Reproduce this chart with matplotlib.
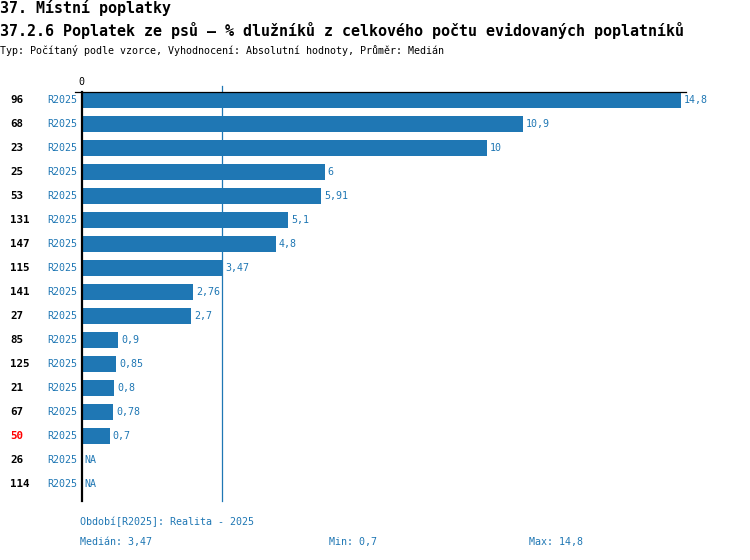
import matplotlib
matplotlib.use("Agg")
import matplotlib.pyplot as plt
from matplotlib.lines import Line2D

# ===============================
# Data
# ===============================
codes = ["96", "68", "23", "25", "53", "131", "147", "115", "141", "27",
         "85", "125", "21", "67", "50", "26", "114"]
values = [14.8, 10.9, 10, 6, 5.91, 5.1, 4.8, 3.47, 2.76, 2.7,
          0.9, 0.85, 0.8, 0.78, 0.7, None, None]
value_labels = ["14,8", "10,9", "10", "6", "5,91", "5,1", "4,8", "3,47", "2,76", "2,7",
                "0,9", "0,85", "0,8", "0,78", "0,7", "NA", "NA"]
highlight = "50"
period = "R2025"
median = 3.47
median_label = "3,47"
min_label = "0,7"
max_label = "14,8"

title1 = "37. Místní poplatky"
title2 = "37.2.6 Poplatek ze psů – % dlužníků z celkového počtu evidovaných poplatníků"
subtitle = "Typ: Počítaný podle vzorce, Vyhodnocení: Absolutní hodnoty, Průměr: Medián"
footer = "Období[R2025]: Realita - 2025"

# ===============================
# Style
# ===============================
W, H = 750, 560
BLUE = "#1f77b4"
MONO = "DejaVu Sans Mono"
SMALL = 7.2

fig = plt.figure(figsize=(W / 100, H / 100), dpi=100)

def fx(px):
    return px / W

def fy(py):
    return 1 - py / H

# axes box in pixels
left, right, top, bottom = 81.5, 686, 92, 500.5
ax = fig.add_axes([fx(left), fy(bottom), fx(right - left), (bottom - top) / H])

px_per_unit = 40.5
ax.set_xlim(0, (right - left) / px_per_unit)
n = len(codes)
row_px = 24
ax.set_ylim((bottom - top - 8) / row_px, -8 / row_px)

for i, v in enumerate(values):
    if v is not None:
        ax.barh(i, v, height=0.65, color=BLUE, zorder=2)
        ax.annotate(value_labels[i], (v, i), xytext=(3, 0), textcoords="offset pixels",
                    va="center", ha="left", fontsize=SMALL, family=MONO, color=BLUE)
    else:
        ax.annotate(value_labels[i], (0, i), xytext=(3, 0), textcoords="offset pixels",
                    va="center", ha="left", fontsize=SMALL, family=MONO, color=BLUE)
    ax.annotate(period, (0, i), xytext=(-4.5, 0), textcoords="offset pixels",
                va="center", ha="right", fontsize=SMALL, family=MONO, color=BLUE)
    fig.text(fx(10), fy(100 + row_px * i), codes[i], va="center", ha="left",
             fontsize=7.8, family=MONO, fontweight="bold",
             color="red" if codes[i] == highlight else "black")

# median line, sticking out above the top
ax.axvline(median, ymin=0, ymax=1 + 6 / (bottom - top), color=BLUE, lw=0.9,
           clip_on=False, zorder=1)

for s in ["right", "bottom"]:
    ax.spines[s].set_visible(False)
ax.spines["left"].set_linewidth(1.6)
ax.spines["left"].set_color("black")
ax.spines["top"].set_linewidth(0.9)
ax.spines["top"].set_color("black")
ax.set_xticks([])
ax.set_yticks([])

# small tick left of the top line and the "0" label
fig.add_artist(Line2D([fx(75), fx(left)], [fy(top), fy(top)], color="black", lw=0.9))
fig.text(fx(81), fy(82), "0", ha="center", va="center", fontsize=SMALL, family=MONO)

# ===============================
# Titles and footer
# ===============================
fig.text(0, fy(8.5), title1, ha="left", va="center", fontsize=10.8, family=MONO,
         fontweight="bold")
fig.text(0, fy(30.5), title2, ha="left", va="center", fontsize=10.8, family=MONO,
         fontweight="bold")
fig.text(0, fy(51), subtitle, ha="left", va="center", fontsize=SMALL, family=MONO)

fig.text(fx(80), fy(521.5), footer, ha="left", va="center", fontsize=SMALL,
         family=MONO, color=BLUE)
fig.text(fx(80), fy(541.5), "Medián: " + median_label, ha="left", va="center",
         fontsize=SMALL, family=MONO, color=BLUE)
fig.text(fx(329), fy(541.5), "Min: " + min_label, ha="left", va="center",
         fontsize=SMALL, family=MONO, color=BLUE)
fig.text(fx(529), fy(541.5), "Max: " + max_label, ha="left", va="center",
         fontsize=SMALL, family=MONO, color=BLUE)

fig.savefig("out.png", dpi=100)
